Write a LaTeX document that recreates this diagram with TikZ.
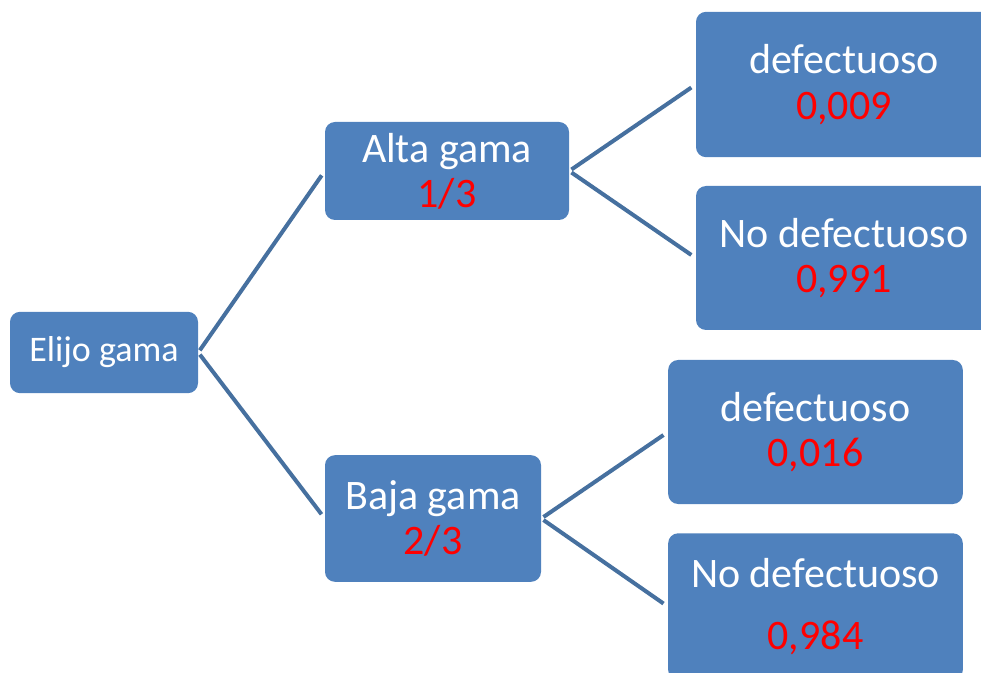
\documentclass[tikz,border=0pt]{standalone}
\usepackage{fontspec}
\setmainfont{Carlito}
\usepackage{tikz}
\usetikzlibrary{positioning}
\definecolor{cajaazul}{HTML}{4F81BD}
\definecolor{lineaazul}{HTML}{46709F}
\definecolor{rojo}{HTML}{FF0000}
\tikzset{
	caja/.style={fill=cajaazul, rounded corners=7.5pt, text=white, align=center, inner sep=0pt},
	rama/.style={line width=3pt, color=lineaazul, shorten <=2pt, shorten >=4pt},
}

\begin{document}
\begin{tikzpicture}[x=0.75pt, y=-0.75pt]
		%%%%% START %%%%%
		
		\useasboundingbox (0, 0) rectangle (981, 673);
		\clip (0, 0) rectangle (981, 673);
		
		\node[caja, minimum width=141pt, minimum height=61pt, font=\fontsize{27}{33}\selectfont] (elijo) at (104, 352.5) {Elijo gama};
		
		\node[caja, minimum width=183pt, minimum height=73.5pt, font=\fontsize{31.5}{34}\selectfont] (alta) at (447, 171) {Alta gama\\\textcolor{rojo}{1/3}};
		\node[caja, minimum width=162pt, minimum height=95pt, font=\fontsize{31.5}{34}\selectfont] (baja) at (433, 518.5) {Baja gama\\\textcolor{rojo}{2/3}};
		
		\node[caja, minimum width=222pt, minimum height=109pt, font=\fontsize{31.5}{34}\selectfont] (def1) at (844, 84.5) {defectuoso\\\textcolor{rojo}{0,009}};
		\node[caja, minimum width=222pt, minimum height=108pt, font=\fontsize{31.5}{34}\selectfont] (nodef1) at (844, 258) {No defectuoso\\\textcolor{rojo}{0,991}};
		
		\node[caja, minimum width=221pt, minimum height=108pt, font=\fontsize{31.5}{34}\selectfont] (def2) at (815.5, 432) {defectuoso\\\textcolor{rojo}{0,016}};
		\node[caja, minimum width=221pt, minimum height=110pt, font=\fontsize{31.5}{34}\selectfont, anchor=north] (nodef2) at (815.5, 533) {No defectuoso\\[13pt]\textcolor{rojo}{0,984}};
		
		\draw[rama] (elijo.east) -- (alta.west);
		\draw[rama] (elijo.east) -- (baja.west);
		
		\draw[rama] (alta.east) -- (def1.west);
		\draw[rama] (alta.east) -- (nodef1.west);
		
		\draw[rama] (baja.east) -- (def2.west);
		\draw[rama] (baja.east) -- (nodef2.west);
		
		%%%%% END %%%%%
	\end{tikzpicture}
\end{document}
